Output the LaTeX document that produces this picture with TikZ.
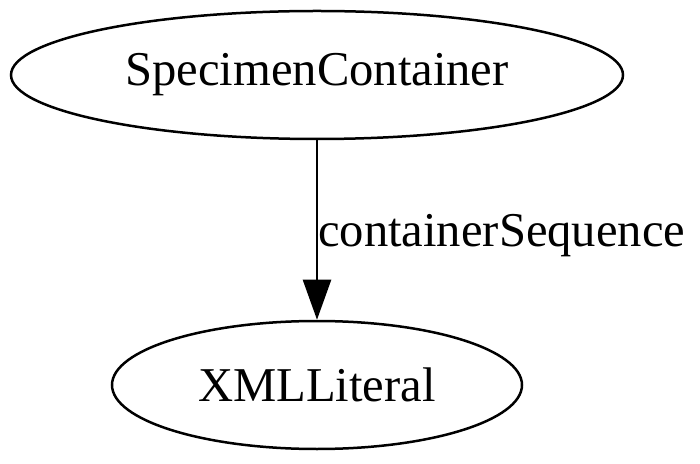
\documentclass[tikz,border=0pt]{standalone}
\usepackage{fontspec}
\setmainfont{Liberation Serif}
\usetikzlibrary{shapes.geometric,arrows.meta}
\tikzset{
  gvnode/.style={draw, ellipse, line width=2.5pt, inner sep=0pt, font=\fontsize{48.6}{58}\selectfont},
  gvedge/.style={line width=2.5pt, -{Triangle[length=40pt,width=28pt]}},
  gvlabel/.style={font=\fontsize{48.6}{58}\selectfont, inner sep=0pt, anchor=base west}
}
\begin{document}
\begin{tikzpicture}[x=1pt,y=1pt]
\useasboundingbox (0,0) rectangle (700,463);
\node[gvnode, minimum width=612pt, minimum height=128pt] (sc) at (317,388) {SpecimenContainer};
\node[gvnode, minimum width=410pt, minimum height=128pt] (xl) at (317,78) {XMLLiteral};
\draw[gvedge] (sc) -- (xl);
\node[gvlabel] (lbl) at (318,216) {containerSequence};
\end{tikzpicture}
\end{document}
